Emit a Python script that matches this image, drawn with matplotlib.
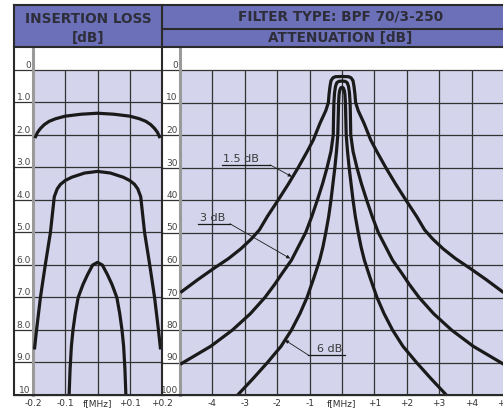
import numpy as np
import matplotlib.pyplot as plt
from matplotlib.patches import Rectangle

# insertion loss curves: half of each curve, offset from centre [MHz] / loss [dB]
il_off_a = [0, 0.05, 0.1, 0.13, 0.15, 0.165, 0.177, 0.186, 0.192]
il_db_a = [1.33, 1.36, 1.42, 1.5, 1.58, 1.68, 1.8, 1.92, 2.05]
il_off_b = [0, 0.04, 0.08, 0.1, 0.115, 0.125, 0.134, 0.146, 0.162, 0.177, 0.189, 0.195]
il_db_b = [3.12, 3.17, 3.3, 3.4, 3.52, 3.66, 3.9, 5.0, 6.0, 7.0, 8.0, 8.55]
il_off_c = [0, 0.015, 0.031, 0.045, 0.06, 0.069, 0.076, 0.081, 0.085, 0.088]
il_db_c = [5.92, 6.0, 6.3, 6.6, 7.0, 7.5, 8.0, 8.5, 9.2, 10.0]

# attenuation curves: half of each curve, offset from centre [MHz] / attenuation [dB]
at_off_15 = [0, 0.2, 0.28, 0.34, 0.37, 0.4, 0.42, 0.5, 0.68, 0.885, 1.07, 1.35, 1.65,
             1.97, 2.3, 2.55, 2.8, 3.12, 3.5, 3.95, 4.45, 4.95]
at_db_15 = [2.0, 2.05, 2.4, 3.3, 5.0, 7.5, 10, 12.5, 16.4, 21.5, 25, 30, 35,
            40, 45, 49.2, 52, 55, 58, 61, 64.5, 68.2]
at_off_3 = [0, 0.1, 0.16, 0.2, 0.23, 0.25, 0.26, 0.27, 0.34, 0.46, 0.6, 0.76, 0.93,
            1.12, 1.56, 1.85, 2.08, 2.38, 2.83, 3.38, 4.05, 4.95]
at_db_3 = [3.4, 3.5, 3.9, 5.0, 7.0, 10, 14, 20, 25, 30, 35, 40, 45,
           50, 58.5, 62.6, 66, 70, 75, 80, 85, 90.3]
at_off_6 = [0, 0.04, 0.07, 0.09, 0.105, 0.115, 0.13, 0.17, 0.22, 0.28, 0.34, 0.41, 0.5,
            0.59, 0.69, 0.87, 1.08, 1.3, 1.56, 1.88, 2.3, 2.75, 3.22]
at_db_6 = [5.3, 5.5, 6.3, 7.5, 10, 14, 20, 25, 30, 35, 40, 45, 50,
           54.5, 58.5, 64, 70, 75, 80, 85, 90, 95, 100]

il_yticks = list(range(11))
il_ylabels = ['0', '1.0', '2.0', '3.0', '4.0', '5.0', '6.0', '7.0', '8.0', '9.0', '10']
il_xticks = [-0.2, -0.1, 0, 0.1, 0.2]
il_xlabels = ['-0.2', '-0.1', 'f[MHz]', '+0.1', '+0.2']
at_yticks = list(range(0, 101, 10))
at_ylabels = [str(v) for v in at_yticks]
at_xticks = [-4, -3, -2, -1, 0, 1, 2, 3, 4, 5]
at_xlabels = ['-4', '-3', '-2', '-1', 'f[MHz]', '+1', '+2', '+3', '+4', '+5']

HEAD = '#6b70b8'
LAV = '#d4d4ec'
GRID = '#333333'
INK = '#1a1a1a'
TXT = '#3a3a3a'
FRAME = '#2a2a2a'


def mirror(off, db):
    off = np.asarray(off)
    db = np.asarray(db)
    return np.r_[-off[::-1], off[1:]], np.r_[db[::-1], db[1:]]


W, H = 503, 409
fig = plt.figure(figsize=(W / 100, H / 100), dpi=100)


def box(x0, y0, x1, y1):
    return [x0 / W, 1 - y1 / H, (x1 - x0) / W, (y1 - y0) / H]


ax_il = fig.add_axes(box(33, 47, 162, 395))
ax_at = fig.add_axes(box(180, 47, 504, 395))

ax_il.set_xlim(-0.2, 0.2)
ax_il.set_ylim(10, -23 / 32.5)
ax_at.set_xlim(-5, 5)
ax_at.set_ylim(100, -230 / 32.5)

for ax, top, vx, yt, yl, xt, xl, col in [
        (ax_il, 10, [-0.1, 0, 0.1], il_yticks, il_ylabels, il_xticks, il_xlabels, 19 / 129),
        (ax_at, 100, [-4, -3, -2, -1, 0, 1, 2, 3, 4], at_yticks, at_ylabels, at_xticks, at_xlabels, 18 / 324)]:
    ax.set_facecolor('white')
    ax.axhspan(0, top, color=LAV, lw=0, zorder=0)
    for v in yt:
        ax.axhline(v, xmin=-col, xmax=1, clip_on=False, color=GRID, lw=0.9, zorder=1)
    ax.vlines(vx, 0, top, color=GRID, lw=0.9, zorder=1)
    for s in ['top', 'right', 'bottom']:
        ax.spines[s].set_visible(False)
    ax.spines['left'].set_color('#9a9a9a')
    ax.spines['left'].set_linewidth(2.2)
    ax.set_yticks(yt, yl, va='bottom')
    ax.set_xticks(xt, xl)
    ax.tick_params(axis='y', length=0, pad=1.5, labelsize=6.5, labelcolor='#444444')
    ax.tick_params(axis='x', length=0, pad=3, labelsize=6.5, labelcolor='#333333')

for off, db in [(il_off_a, il_db_a), (il_off_b, il_db_b), (il_off_c, il_db_c)]:
    x, y = mirror(off, db)
    ax_il.plot(x, y, color=INK, lw=2.3, solid_joinstyle='round', zorder=3)

for off, db in [(at_off_15, at_db_15), (at_off_3, at_db_3), (at_off_6, at_db_6)]:
    x, y = mirror(off, db)
    ax_at.plot(x, y, color=INK, lw=2.3, solid_joinstyle='round', zorder=3)

# curve labels: text, underline from ul0 to ul1, leader from ul end to the curve
notes = [('1.5 dB', -3.66, 28.2, -3.7, -2.22, 29.2, (-2.22, 29.2), (-1.55, 32.8)),
         ('3 dB', -4.38, 46.6, -4.43, -3.46, 47.3, (-3.46, 47.3), (-1.6, 58.0)),
         ('6 dB', -0.78, 86.9, -1.04, 0.09, 87.7, (-1.04, 87.7), (-1.76, 83.1))]
for txt, tx, ty, ul0, ul1, uy, start, tip in notes:
    ax_at.text(tx, ty, txt, fontsize=8, color=TXT, va='baseline', ha='left', zorder=4)
    ax_at.plot([ul0, ul1], [uy, uy], color=INK, lw=0.9, zorder=4)
    ax_at.annotate('', xy=tip, xytext=start,
                   arrowprops=dict(arrowstyle='-|>', lw=0.6, color=INK,
                                   mutation_scale=5, shrinkA=0, shrinkB=0), zorder=4)

# header and frame
ov = fig.add_axes([0, 0, 1, 1], zorder=5)
ov.patch.set_visible(False)
ov.axis('off')
ov.add_patch(Rectangle((14, 5), W, 42, fc=HEAD, ec='none'))
for xs, ys in [([14, 14], [5, 395]), ([14, W + 5], [5, 5]), ([14, W + 5], [47, 47]),
               ([162, 162], [5, 395]), ([162, W + 5], [29, 29]), ([14, W + 5], [395, 395])]:
    ov.plot(xs, ys, color=FRAME, lw=1.5, solid_capstyle='projecting')
hkw = dict(ha='center', va='center', fontsize=9.8, fontweight='bold', color='#2e2e3a')
ov.text(88, 19, 'INSERTION LOSS', **hkw)
ov.text(88, 38, '[dB]', **hkw)
ov.text(341, 17, 'FILTER TYPE: BPF 70/3-250', **hkw)
ov.text(340, 38, 'ATTENUATION [dB]', **hkw)
ov.set_xlim(0, W)
ov.set_ylim(H, 0)

fig.savefig('out.png', dpi=100)
